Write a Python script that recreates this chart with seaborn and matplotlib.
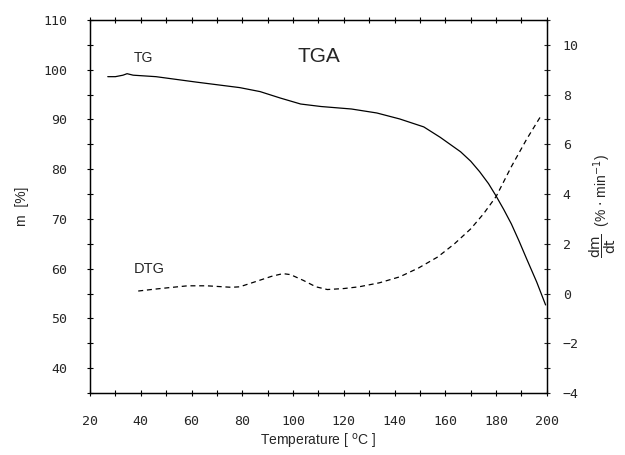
import matplotlib
matplotlib.use("Agg")
import matplotlib.pyplot as plt
import seaborn as sns
import pandas as pd
from matplotlib.ticker import MultipleLocator

# TG curve (mass, %)
tg_temp = [27, 30, 33, 34.6, 37, 46, 62, 79, 87, 95, 103, 111, 123, 133, 142,
           151.5, 158, 166, 170, 173.5, 177, 180, 183, 186, 189, 192, 196, 199.5]
tg_mass = [98.6, 98.6, 98.9, 99.2, 98.9, 98.6, 97.5, 96.4, 95.6, 94.3, 93.1,
           92.6, 92.1, 91.3, 90.1, 88.5, 86.4, 83.5, 81.6, 79.5, 77.1, 74.6,
           71.9, 69.0, 65.6, 62.0, 57.3, 52.7]

# DTG curve (%/min)
dtg_temp = [39, 45, 50.6, 58.5, 66, 75.7, 79, 85, 91.5, 96, 99, 104, 109,
            113.5, 120, 126, 134, 142, 149.5, 157, 163.6, 170, 175, 180, 186,
            192, 198]
dtg_rate = [0.1, 0.17, 0.23, 0.31, 0.31, 0.25, 0.27, 0.47, 0.69, 0.8, 0.76,
            0.53, 0.27, 0.16, 0.2, 0.27, 0.43, 0.67, 1.03, 1.47, 2.0, 2.6,
            3.2, 3.9, 5.1, 6.2, 7.2]

tg = pd.DataFrame({"T": tg_temp, "m": tg_mass})
dtg = pd.DataFrame({"T": dtg_temp, "r": dtg_rate})

sns.set_style("ticks")
plt.rcParams["font.family"] = ["Liberation Sans", "DejaVu Sans"]

fig = plt.figure(figsize=(6.25, 4.55), dpi=100)
ax = fig.add_axes([0.144, 0.1363, 0.731, 0.8198])
ax2 = ax.twinx()

sns.lineplot(data=tg, x="T", y="m", ax=ax, color="black", linewidth=0.9,
             sort=False)
sns.lineplot(data=dtg, x="T", y="r", ax=ax2, color="black", linewidth=0.9,
             linestyle=(0, (4, 3)), sort=False)

ax.set_xlim(20, 200)
ax.set_ylim(35, 110)
ax2.set_ylim(-4, 11)

ax.xaxis.set_major_locator(MultipleLocator(20))
ax.xaxis.set_minor_locator(MultipleLocator(10))
ax.yaxis.set_major_locator(MultipleLocator(10))
ax.yaxis.set_minor_locator(MultipleLocator(5))
ax2.set_yticks(range(-4, 11, 2))
ax2.yaxis.set_minor_locator(MultipleLocator(1))

mono = "DejaVu Sans Mono"
ax.tick_params(axis="both", which="both", direction="inout", top=True,
               width=0.8, color="black", length=5)
ax.tick_params(axis="x", pad=13, labelsize=9.5)
ax.tick_params(axis="y", pad=14, labelsize=9.5)
ax2.tick_params(axis="y", which="both", direction="inout", length=5,
                width=0.8, pad=9, labelsize=9.5)
for lab in ax.get_xticklabels() + ax.get_yticklabels() + ax2.get_yticklabels():
    lab.set_family(mono)

for a in (ax, ax2):
    for s in a.spines.values():
        s.set_linewidth(0.9)
        s.set_color("black")

ax.set_xlabel("Temperature [ $^{\\mathrm{o}}$C ]", fontsize=10, labelpad=3)
ax.set_ylabel("m  [%]", fontsize=10, labelpad=10)
ax2.set_ylabel("$\\dfrac{\\mathrm{dm}}{\\mathrm{dt}}$  (% $\\cdot$ min$^{-1}$)",
               fontsize=10, rotation=90, labelpad=6)

ax.text(41, 102.3, "TG", fontsize=10, ha="center", va="center")
ax.text(110, 102.7, "TGA", fontsize=15, ha="center", va="center")
ax.text(43.5, 60, "DTG", fontsize=10.5, ha="center", va="center")

fig.savefig("out.png", dpi=100)
